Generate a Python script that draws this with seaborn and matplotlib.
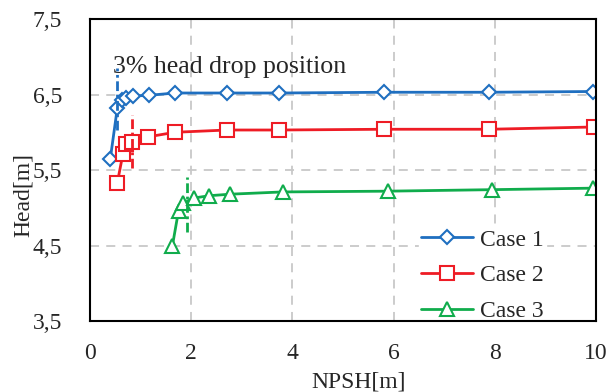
import numpy as np
import matplotlib
matplotlib.use("Agg")
import matplotlib.pyplot as plt
import seaborn as sns
import pandas as pd

# data
npsh_1 = [0.40, 0.54, 0.63, 0.72, 0.86, 1.17, 1.68, 2.71, 3.74, 5.82, 7.89, 9.95]
head_1 = [5.64, 6.32, 6.43, 6.46, 6.48, 6.49, 6.52, 6.52, 6.52, 6.53, 6.53, 6.54]
npsh_2 = [0.54, 0.65, 0.72, 0.84, 1.15, 1.68, 2.71, 3.74, 5.82, 7.89, 9.96]
head_2 = [5.33, 5.71, 5.84, 5.87, 5.94, 6.00, 6.03, 6.03, 6.04, 6.04, 6.07]
npsh_3 = [1.63, 1.75, 1.84, 2.06, 2.36, 2.77, 3.81, 5.88, 7.95, 9.95]
head_3 = [4.50, 4.96, 5.06, 5.13, 5.16, 5.18, 5.21, 5.22, 5.24, 5.26]

# 3% head drop markers: x, y bottom, y top
drop_x = [0.54, 0.84, 1.92]
drop_lo = [6.03, 5.53, 4.68]
drop_hi = [6.85, 6.23, 5.41]

CASES = ["Case 1", "Case 2", "Case 3"]
COLORS = ["#1F6FC0", "#EE1C25", "#10AC4C"]
MARKERS = ["D", "s", "^"]
MSIZES = [6.8, 9.5, 9.8]
FS = 17

sns.set_style("white")
plt.rcParams["font.family"] = ["Liberation Serif", "DejaVu Serif"]

fig = plt.figure(figsize=(6.1, 3.92), dpi=100)
ax = fig.add_axes([0.1475, 0.181, 0.8295, 0.7705])

series = [(npsh_1, head_1), (npsh_2, head_2), (npsh_3, head_3)]
for i, (xs, ys) in enumerate(series):
    df = pd.DataFrame({"NPSH": xs, "Head": ys})
    sns.lineplot(data=df, x="NPSH", y="Head", ax=ax, sort=False, color=COLORS[i],
                 marker=MARKERS[i], markersize=MSIZES[i], markerfacecolor="white",
                 markeredgecolor=COLORS[i], markeredgewidth=1.5, linewidth=2,
                 label=CASES[i], zorder=3)

for i in range(3):
    ax.plot([drop_x[i], drop_x[i]], [drop_lo[i], drop_hi[i]], color=COLORS[i],
            linestyle=(0, (3.5, 1.3, 1, 1.3)), linewidth=2, zorder=4)

ax.text(0.45, 6.86, "3% head drop position", fontsize=18.6, va="center", ha="left")

ax.set_xlim(0, 10)
ax.set_ylim(3.5, 7.5)
ax.set_xticks([0, 2, 4, 6, 8, 10])
ax.set_yticks([3.5, 4.5, 5.5, 6.5, 7.5])
ax.set_yticklabels(["3,5", "4,5", "5,5", "6,5", "7,5"])
ax.tick_params(labelsize=FS, direction="in", length=5, width=1.5, color="black")
ax.tick_params(axis="y", pad=20)
ax.tick_params(axis="x", pad=16)
ax.set_xlabel("NPSH[m]", fontsize=FS)
ax.set_ylabel("Head[m]", fontsize=FS)
ax.xaxis.set_label_coords(0.53, -0.166)
ax.yaxis.set_label_coords(-0.11, 0.417)
ax.grid(True, color="#C8C8C8", linestyle=(0, (5, 4)), linewidth=1.3)
for s in ax.spines.values():
    s.set_color("black")
    s.set_linewidth(1.5)
    s.set_zorder(6)

leg = ax.legend(loc="lower right", bbox_to_anchor=(0.925, -0.05), fontsize=FS,
                frameon=True, framealpha=1, edgecolor="white", fancybox=False,
                handlelength=2.2, handletextpad=0.3, labelspacing=0.6, borderpad=0.1)

fig.savefig("out.png", dpi=100)
